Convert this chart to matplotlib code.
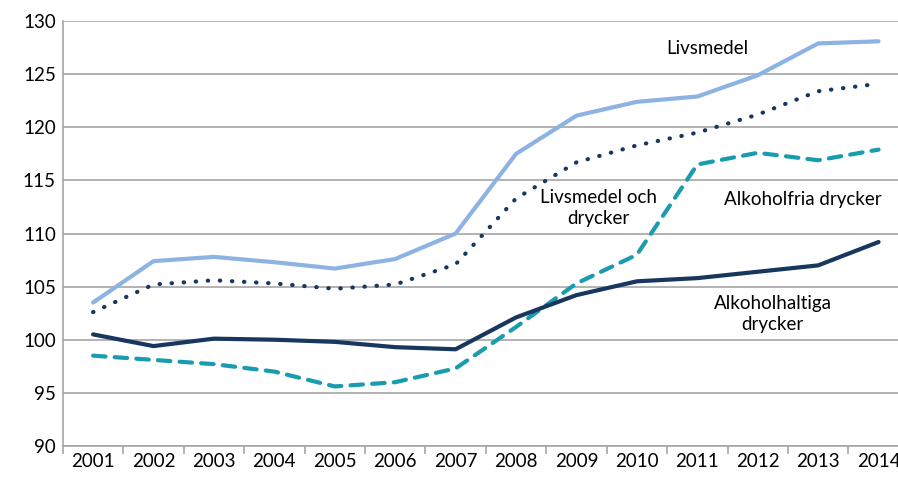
import matplotlib.pyplot as plt
import numpy as np

plt.rcParams['font.family'] = ['Lato', 'DejaVu Sans']

years = ['2001', '2002', '2003', '2004', '2005', '2006', '2007',
         '2008', '2009', '2010', '2011', '2012', '2013', '2014']

livsmedel = [103.5, 107.4, 107.8, 107.3, 106.7, 107.6, 110.0,
             117.5, 121.1, 122.4, 122.9, 124.9, 127.9, 128.1]
livsmedel_drycker = [102.6, 105.2, 105.6, 105.3, 104.8, 105.2, 107.1,
                     113.3, 116.7, 118.3, 119.5, 121.2, 123.4, 124.1]
alkoholfria = [98.5, 98.1, 97.7, 97.0, 95.6, 96.0, 97.3,
               101.2, 105.3, 108.0, 116.5, 117.6, 116.9, 117.9]
alkoholhaltiga = [100.5, 99.4, 100.1, 100.0, 99.8, 99.3, 99.1,
                  102.1, 104.2, 105.5, 105.8, 106.4, 107.0, 109.2]

x = np.arange(len(years))

fig = plt.figure(figsize=(8.98, 4.80), dpi=100)
ax = fig.add_axes([0.070, 0.071, 0.942, 0.885])

lw = 3.0
ax.plot(x, livsmedel, color='#8DB3E2', lw=lw, solid_capstyle='round', zorder=3)
ax.plot(x, livsmedel_drycker, color='#17375E', lw=lw, linestyle=(0, (0.1, 2.8)),
        dash_capstyle='round', zorder=3)
ax.plot(x, alkoholfria, color='#1A9CB0', lw=lw, linestyle=(0, (3.0, 2.2)),
        dash_capstyle='round', zorder=3)
ax.plot(x, alkoholhaltiga, color='#17375E', lw=lw, solid_capstyle='round', zorder=3)

ax.set_xlim(-0.5, len(years) - 0.5)
ax.set_ylim(90, 130)
ax.set_yticks(np.arange(90, 131, 5))
ax.yaxis.grid(True, color='#A6A6A6', lw=1.2)
ax.set_axisbelow(True)

ax.set_xticks(np.arange(-0.5, len(years), 1))
ax.set_xticklabels([])
ax.set_xticks(x, minor=True)
ax.set_xticklabels(years, minor=True)
ax.tick_params(axis='x', which='major', length=6, color='#A6A6A6', width=1.2)
ax.tick_params(axis='x', which='minor', length=0, labelsize=13.5, pad=5)
ax.tick_params(axis='y', length=0, labelsize=13.5, pad=5)

for s in ['top', 'right']:
    ax.spines[s].set_visible(False)
for s in ['left', 'bottom']:
    ax.spines[s].set_color('#A6A6A6')
    ax.spines[s].set_linewidth(1.2)

fs = 13.5
ax.text(10.16, 127.4, 'Livsmedel', ha='center', va='center', fontsize=fs)
ax.text(8.36, 112.4, 'Livsmedel och\ndrycker', ha='center', va='center',
        fontsize=fs, linespacing=1.25)
ax.text(11.75, 113.2, 'Alkoholfria drycker', ha='center', va='center', fontsize=fs)
ax.text(11.25, 102.4, 'Alkoholhaltiga\ndrycker', ha='center', va='center',
        fontsize=fs, linespacing=1.25)

fig.savefig('out.png', dpi=100)
